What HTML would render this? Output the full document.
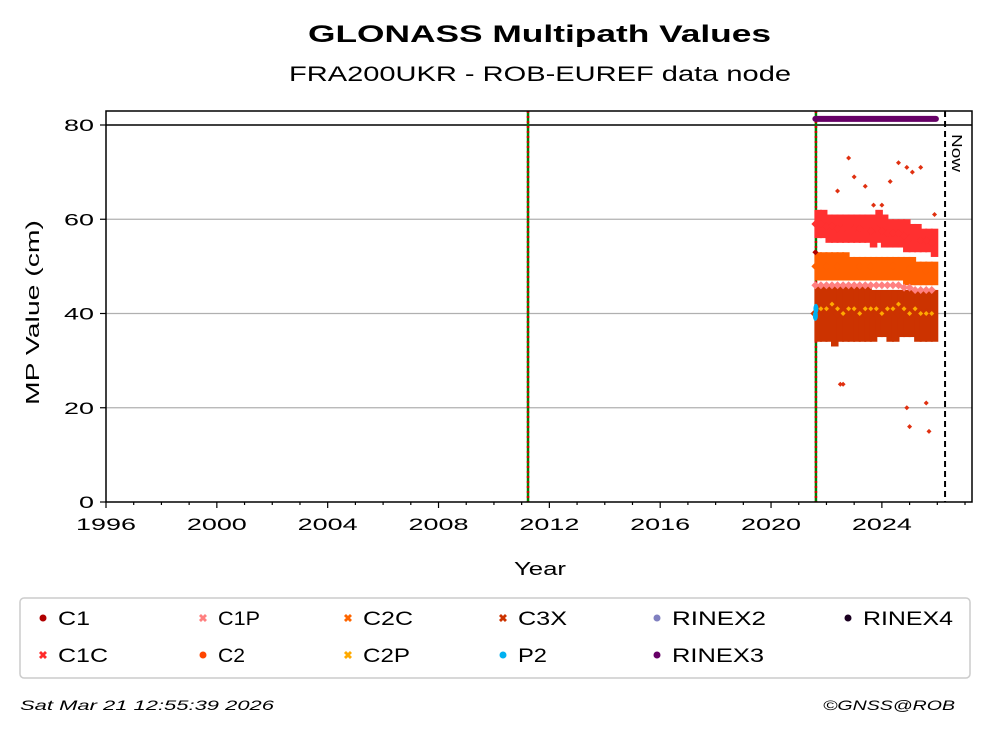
<!DOCTYPE html>
<html><head><meta charset="utf-8"><style>
body{margin:0;background:#fff;font-family:"Liberation Sans",sans-serif}
svg text{font-family:"Liberation Sans",sans-serif}
</style></head><body>
<svg id="chart" width="993" height="734" xmlns="http://www.w3.org/2000/svg">
<rect width="993" height="734" fill="#fff"/>
<text x="308" y="42" font-size="24" font-weight="bold" textLength="463" lengthAdjust="spacingAndGlyphs">GLONASS Multipath Values</text>
<text x="289" y="81" font-size="21" textLength="502" lengthAdjust="spacingAndGlyphs">FRA200UKR - ROB-EUREF data node</text>
<g id="grid"></g>
<g id="marks"></g>
<rect x="106" y="111" width="866" height="391" fill="none" stroke="#000" stroke-width="1.5"/>
<g id="axes"></g>
<text x="514" y="575" font-size="18" textLength="52" lengthAdjust="spacingAndGlyphs">Year</text>
<text transform="translate(39,405) rotate(-90)" font-size="18" textLength="185" lengthAdjust="spacingAndGlyphs">MP Value (cm)</text>
<rect x="20" y="598" width="950" height="80" rx="4" fill="#fff" stroke="#ccc" stroke-width="1.5"/>
<g id="legend"></g>
<text x="20" y="710" font-size="14" font-style="italic" textLength="254" lengthAdjust="spacingAndGlyphs">Sat Mar 21 12:55:39 2026</text>
<text x="823" y="710" font-size="14" font-style="italic" textLength="132" lengthAdjust="spacingAndGlyphs">©GNSS@ROB</text>
</svg>
<script>
const NS="http://www.w3.org/2000/svg";
const xTicks=[1996,2000,2004,2008,2012,2016,2020,2024];
const yTicks=[0,20,40,60,80];
const times=[2021.6,2021.8,2022.0,2022.2,2022.4,2022.6,2022.8,2023.0,2023.2,2023.4,2023.6,2023.8,2024.0,2024.2,2024.4,2024.6,2024.8,2025.0,2025.2,2025.4,2025.6,2025.8];
const c1cMean=[59,59,58.5,58.5,58,58,58,58,58,57.5,57.5,58,57.5,57,57,57,56.5,56,56,55.5,55.5,55];
const c1cMin=[56,56,55,55,55,55,55,55,55,55,54,55,54,54,54,54,53,53,53,53,53,52];
const c1cMax=[62,62,61,61,61,61,61,61,61,61,61,62,61,60,60,60,60,59,59,58,58,58];
const c2cMean=[50,50,50,50,50,50,50,50,50,50,50,50,50,50,50,50,49.5,49.5,49,49,49,49];
const c2cMin=[47,47,47,47,47,47,47,47,47,47,47,47,47,47,47,47,46,46,46,46,46,46];
const c2cMax=[53,53,53,53,53,53,52,52,52,52,52,52,52,52,52,52,52,52,51,51,51,51];
const c1pMean=[46,46,46,46,46,46,46,46,46,46,46,46,46,46,46,46,45.5,45.5,45,45,45,45];
const c3xMean=[40,40,40,40,40,40,40,40,40,40,40,40,40,40,40,40,40,40,40,40,40,40];
const c3xMin=[34,34,34,33,34,34,34,34,34,34,34,35,35,34,34,35,35,35,34,34,34,34];
const c3xMax=[46,46,46,46,46,46,46,46,46,46,45,45,45,45,45,45,45,45,45,45,45,45];
const c2pMean=[40,41,41,42,41,40,41,41,40,41,41,41,40,41,41,42,41,40,41,40,40,40];
const outT=[2022.4,2022.6,2022.8,2023.0,2023.4,2023.7,2024.0,2024.3,2024.6,2024.9,2025.1,2025.4,2025.7,2025.9,2024.9,2025.0,2022.5,2025.6];
const outV=[66,25,73,69,67,63,63,68,72,71,70,71,15,61,20,16,25,21];
const p2Times=[2021.6,2021.62];
const p2Vals=[39.5,41];
const c1Times=[2021.6];
const c1Vals=[53];
const rinex3Start=2021.6, rinex3End=2025.95, rinex3Val=81.3;
const events=[2011.23,2021.62];
const nowYear=2026.28;
const X=v=>106+(v-1996)*27.71;
const Y=v=>502-v*4.7125;
function el(t,a,p){const e=document.createElementNS(NS,t);for(const k in a)e.setAttribute(k,a[k]);(p||document.getElementById('marks')).appendChild(e);return e;}
const grid=document.getElementById('grid'),axes=document.getElementById('axes');
yTicks.forEach(v=>{
 if(v>0&&v<80){const g=el('line',{x1:106,x2:972,y1:Y(v),y2:Y(v),stroke:'#b0b0b0','stroke-width':1.2},grid);
 
 }
 const t=el('line',{x1:100,x2:106,y1:Y(v),y2:Y(v),stroke:'#000','stroke-width':1.2},axes);
 
 
 const s=String(v);
 const l=el('text',{x:94-s.length*15,y:Y(v)+6,'font-size':17,textLength:s.length*15,lengthAdjust:'spacingAndGlyphs'},axes);l.textContent=s;
 
 
});
const ref=el('line',{x1:106,x2:972,y1:Y(80),y2:Y(80),stroke:'#000','stroke-width':1.5},grid);


for(let yr=1996;yr<=2027;yr++){
 const major=xTicks.includes(yr);
 const t=el('line',{x1:X(yr),x2:X(yr),y1:502,y2:major?508:505,stroke:'#000','stroke-width':1.2},axes);
 
 
}
xTicks.forEach(v=>{const l=el('text',{x:X(v)-30,y:530,'font-size':17,textLength:60,lengthAdjust:'spacingAndGlyphs'},axes);l.textContent=v;
 
 });
events.forEach(v=>{
 const a=el('line',{x1:X(v),x2:X(v),y1:111,y2:502,stroke:'#008000','stroke-width':2.5},grid);
 
 
 const b=el('line',{x1:X(v),x2:X(v),y1:111,y2:502,stroke:'#d00000','stroke-width':2.5,'stroke-dasharray':'2,3'},grid);
 
 
});
const nl=el('line',{x1:X(nowYear),x2:X(nowYear),y1:111,y2:502,stroke:'#000','stroke-width':2,'stroke-dasharray':'6,4'},grid);


const nt=el('text',{transform:`translate(${X(nowYear)+7},134) rotate(90)`,'font-size':15,textLength:38,lengthAdjust:'spacingAndGlyphs'},grid);nt.textContent='Now';


function band(name,mins,maxs,color){times.forEach((t,i)=>{
 const r=el('rect',{x:X(t)-1,y:Y(maxs[i]),width:X(t+0.2)-X(t)+2,height:Y(mins[i])-Y(maxs[i]),fill:color});
 
 });}
function pts(name,ts,vs,color,r){ts.forEach((t,i)=>{
 const c=el('path',{d:`M${X(t)-r},${Y(vs[i])}L${X(t)},${Y(vs[i])-r}L${X(t)+r},${Y(vs[i])}L${X(t)},${Y(vs[i])+r}Z`,fill:color});
 
 });}
band('c3x',c3xMin,c3xMax,'#cc3300');
band('c2c',c2cMin,c2cMax,'#ff6000');
band('c1c',c1cMin,c1cMax,'#ff3030');
pts('c1p',times,c1pMean,'#ff8080',4);
pts('c2c',times,c2cMean,'#ff6000',4);
pts('c3x',times,c3xMean,'#cc3300',5);
pts('c2p',times,c2pMean,'#ffaa00',2.5);
pts('c1c',times,c1cMean,'#ff3030',4);
pts('outlier',outT,outV,'#e03010',2.5);
pts('c1',c1Times,c1Vals,'#b00000',3);
p2Times.forEach((t,i)=>{const c=el('ellipse',{cx:X(t),cy:Y(p2Vals[i]),rx:2.5,ry:5,fill:'#00b0f0'});
 
 });
const r3=el('line',{x1:X(rinex3Start),x2:X(rinex3End),y1:Y(rinex3Val),y2:Y(rinex3Val),stroke:'#660066','stroke-width':6,'stroke-linecap':'round'});


const legendItems=[['C1','#b00000','o',43,618,32],['C1C','#ff2a2a','x',43,655,50],['C1P','#ff8080','x',203,618,42],['C2','#ff4500','o',203,655,27],['C2C','#ff6600','x',348,618,50],['C2P','#ffaa00','x',348,655,47],['C3X','#cc3300','x',503,618,49],['P2','#00b0f0','o',503,655,29],['RINEX2','#8080c0','o',657,618,94],['RINEX3','#660066','o',657,655,92],['RINEX4','#1a0020','o',848,618,90]];
const lg=document.getElementById('legend');
legendItems.forEach(([n,c,s,x,y,w])=>{
 let m;
 if(s==='o')m=el('circle',{cx:x,cy:y,r:3.5,fill:c},lg);
 else m=el('text',{x:x,y:y+4,'text-anchor':'middle','font-size':11,'font-weight':'bold',fill:c},lg),m.textContent='✖';
 
 
 const t=el('text',{x:x+15,y:y+7,'font-size':19,textLength:w,lengthAdjust:'spacingAndGlyphs'},lg);t.textContent=n;
 
 
});
</script>
</body></html>
